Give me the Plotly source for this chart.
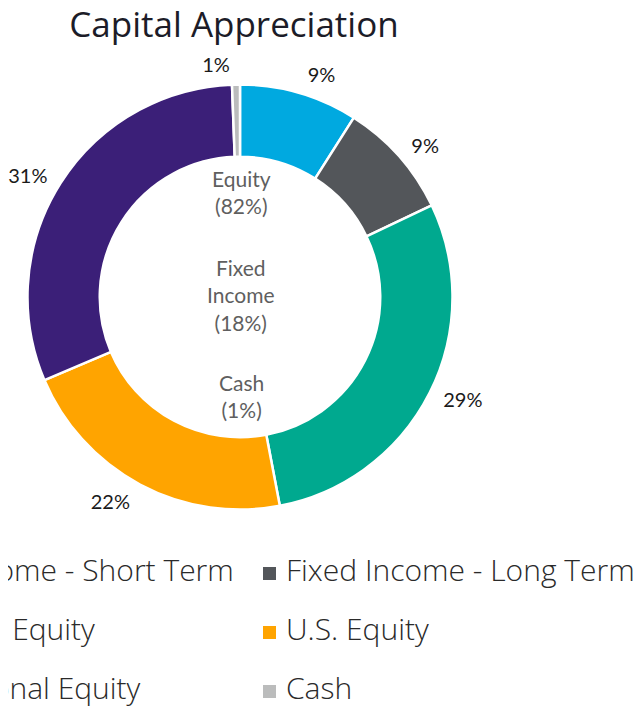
import plotly.graph_objects as go

# ---- data ----
labels = ["Fixed Income - Short Term", "Fixed Income - Long Term", "Canadian Equity",
          "U.S. Equity", "International Equity", "Cash"]
values = [9.0, 8.9, 29.1, 21.6, 30.8, 0.6]
colors = ["#00A9E0", "#53565A", "#00A98F", "#FFA400", "#3B1F78", "#BBBCBC"]
center_groups = ["Equity<br>(82%)", "Fixed<br>Income<br>(18%)", "Cash<br>(1%)"]
title_text = "Capital Appreciation"

# the page body adds an 8px margin: size the figure to fit the window
OFF = 8
W, H = 641 - OFF, 706 - OFF


def px(x):
    return (x - OFF) / W


def py(y):
    return 1 - (y - OFF) / H


CX, CY, R = 240, 297, 212.5   # donut centre and radius in screen pixels
RL = 221                      # radius used to place the outside percentage labels

fig = go.Figure()
# donut
fig.add_trace(go.Pie(
    labels=labels,
    values=values,
    hole=0.66,
    sort=False,
    direction="clockwise",
    rotation=0,
    marker=dict(colors=colors, line=dict(color="white", width=2.5)),
    textinfo="none",
    showlegend=False,
    hoverinfo="label+percent",
    domain=dict(x=[px(CX - R), px(CX + R)], y=[py(CY + R), py(CY - R)]),
))
# same data, transparent ring, only used to set the percentage labels a bit further out
fig.add_trace(go.Pie(
    labels=labels,
    values=values,
    hole=0.97,
    sort=False,
    direction="clockwise",
    rotation=0,
    marker=dict(colors=["rgba(0,0,0,0)"] * len(labels), line=dict(width=0)),
    textposition="outside",
    texttemplate="%{percent:.0%}",
    textfont=dict(family="Lato", size=20, color="#1a1a1a"),
    showlegend=False,
    hoverinfo="skip",
    domain=dict(x=[px(CX - RL), px(CX + RL)], y=[py(CY + RL), py(CY - RL)]),
))

annotations = []
# centre summary text
for txt, yc in zip(center_groups, [192, 295, 396]):
    annotations.append(dict(text=txt, x=px(241), y=py(yc), xref="paper", yref="paper",
                            showarrow=False, xanchor="center", yanchor="middle",
                            font=dict(family="Lato", size=21, color="#5f5f5f", weight=400)))

# legend built from labels/colors (2 columns, wider than the page so the left column is cut off)
LEG_FONT = dict(family="Open Sans", size=30, color="#2a2a2a", weight=300)
shapes = []
row_y = [569, 628, 687]
col_text_x = [-124, 284]
for i, (lab, col) in enumerate(zip(labels, colors)):
    r, c = divmod(i, 2)
    yc = row_y[r]
    tx = col_text_x[c]
    mx = tx - 21
    annotations.append(dict(text=lab, x=px(tx), y=py(yc), xref="paper", yref="paper",
                            showarrow=False, xanchor="left", yanchor="middle",
                            font=LEG_FONT))
    shapes.append(dict(type="rect", xref="paper", yref="paper",
                       x0=px(mx), x1=px(mx + 13), y0=py(yc + 11), y1=py(yc - 2),
                       fillcolor=col, line=dict(width=0)))

fig.update_layout(
    width=W, height=H,
    margin=dict(l=0, r=0, t=0, b=0, autoexpand=False),
    paper_bgcolor="white",
    plot_bgcolor="white",
    title=dict(text=title_text, x=px(234), xanchor="center", y=py(25), yanchor="middle",
               yref="container", xref="paper",
               font=dict(family="Open Sans", size=35, color="#1c1c28", weight=400)),
    annotations=annotations,
    shapes=shapes,
)

fig.write_html("out.html")
